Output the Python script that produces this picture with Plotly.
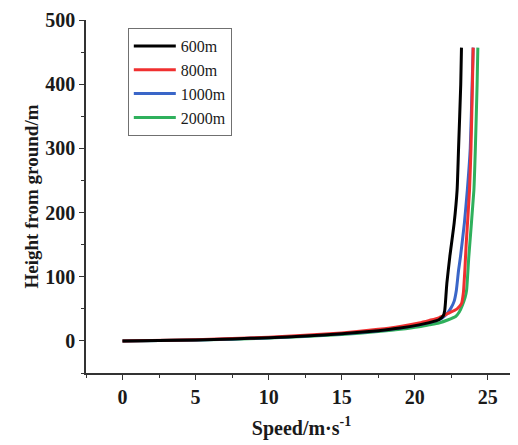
import plotly.graph_objects as go

names = ["600m", "800m", "1000m", "2000m"]
colors = ["#000000", "#f03030", "#3a66c8", "#2fb05c"]

x_600 = [0, 2.5, 5, 7.5, 10, 12.5, 15, 17.5, 19, 20.3, 21, 21.65, 21.95, 22.05, 22.1, 22.2, 22.4, 22.7, 22.9, 23.0, 23.15, 23.2]
h_600 = [0, 0.6, 1.5, 3, 5, 7.5, 11, 16, 20, 25, 28.5, 33, 39, 47, 59, 90, 131, 184, 235, 300, 400, 457]

x_800 = [0, 5, 10, 15, 17.5, 19, 20.3, 21, 21.65, 22.3, 22.9, 23.2, 23.33, 23.43, 23.52, 23.75, 23.85, 23.95, 24.0]
h_800 = [0, 1.8, 5.8, 12.5, 18, 22.5, 28, 32, 36, 43, 50, 58, 75, 110, 150, 235, 300, 400, 457]

x_1000 = [0, 5, 10, 15, 17.5, 19, 20.3, 21, 21.65, 22.0, 22.3, 22.5, 22.7, 22.85, 23.0, 23.13, 23.4, 23.6, 23.8, 23.93, 24.0]
h_1000 = [0, 1.5, 5, 11, 16, 20, 25, 28.5, 33, 38, 45, 52, 62, 79, 110, 131, 184, 235, 300, 400, 457]

x_2000 = [0, 5, 10, 15, 17.5, 19, 20.3, 21, 21.65, 22.3, 22.8, 23.05, 23.25, 23.45, 23.55, 23.7, 24.05, 24.15, 24.27, 24.32]
h_2000 = [0, 1.3, 4.5, 10, 14.5, 18, 22, 25, 28, 33, 38, 45, 55, 68, 79, 131, 235, 300, 400, 457]

series_x = [x_600, x_800, x_1000, x_2000]
series_h = [h_600, h_800, h_1000, h_2000]

x_ticks = [0, 5, 10, 15, 20, 25]
y_ticks = [0, 100, 200, 300, 400, 500]

fig = go.Figure()
for i in reversed(range(4)):
    fig.add_trace(go.Scatter(
        x=series_x[i], y=series_h[i], mode="lines", name=names[i],
        line=dict(color=colors[i], width=3, shape="spline", smoothing=0.5),
    ))

tick_font = dict(family="Liberation Serif", size=20, color="#1a1a1a")
title_font = dict(family="Liberation Serif", size=20, color="#1a1a1a")
# page body has an 8px default margin, so the figure is sized/offset to compensate
fig.update_layout(
    width=510, height=437,
    margin=dict(l=78, r=1, t=12, b=72),
    plot_bgcolor="white", paper_bgcolor="white",
    showlegend=True,
    legend=dict(
        traceorder="reversed",
        x=0.097, y=0.977, xanchor="left", yanchor="top",
        bordercolor="#707070", borderwidth=1,
        font=dict(family="Liberation Serif", size=16, color="#1a1a1a"),
        bgcolor="white", tracegroupgap=0, itemwidth=42,
    ),
    xaxis=dict(
        range=[-2.5, 27], tickvals=x_ticks, ticktext=[f"<b>{v}</b>" for v in x_ticks],
        showline=True, linecolor="#333", linewidth=1.5, showgrid=False, zeroline=False,
        ticks="outside", ticklen=5, tickcolor="#333", automargin=False,
        minor=dict(dtick=2.5, tick0=0, ticks="outside", ticklen=3, tickcolor="#333"),
        tickfont=tick_font,
        title=dict(text="<b>Speed/m·s<sup>-1</sup></b>", font=title_font, standoff=14),
    ),
    yaxis=dict(
        range=[-50, 500], tickvals=y_ticks, ticktext=[f"<b>{v}</b>" for v in y_ticks],
        showline=True, linecolor="#333", linewidth=1.5, showgrid=False, zeroline=False,
        ticks="outside", ticklen=5, tickcolor="#333", automargin=False,
        minor=dict(dtick=50, tick0=0, ticks="outside", ticklen=3, tickcolor="#333"),
        tickfont=tick_font,
        title=dict(text="<b>Height from ground/m</b>", font=dict(family="Liberation Serif", size=19, color="#1a1a1a"), standoff=2),
    ),
)

fig.write_html("out.html")
